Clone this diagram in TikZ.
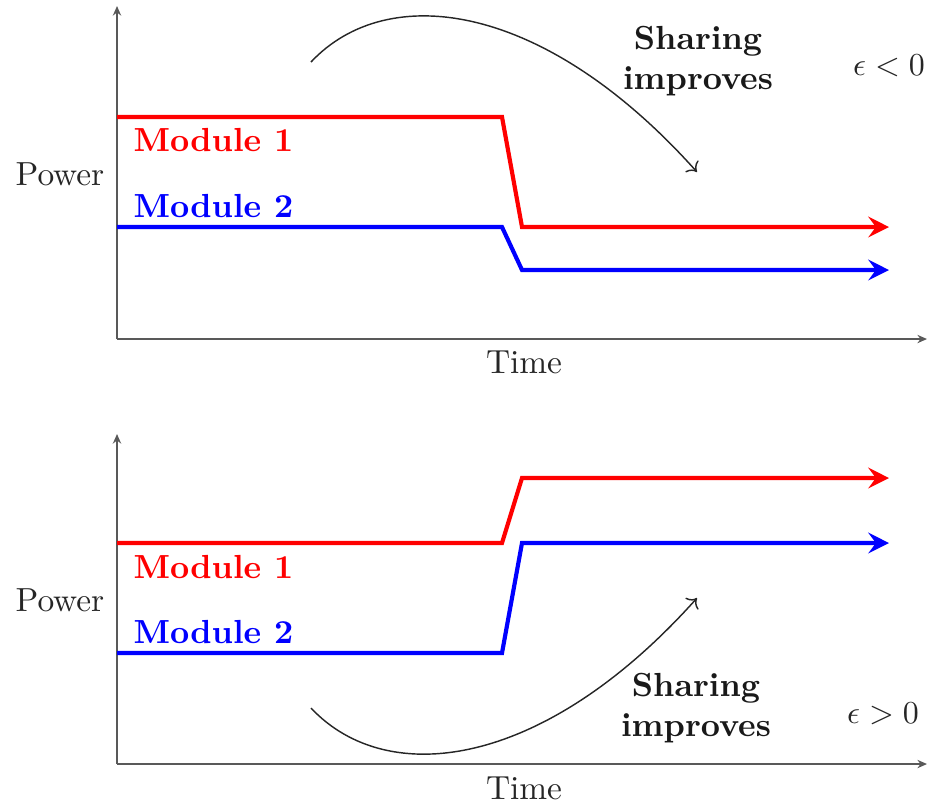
\documentclass[tikz,border=0pt]{standalone}
\usetikzlibrary{arrows.meta}
\begin{document}
\begin{tikzpicture}[x=0.011cm,y=-0.011cm,
  every node/.style={font=\fontsize{10.45pt}{12.6pt}\selectfont},
  axis/.style={draw=black!65,line width=0.5pt,-{Stealth[length=3pt,width=2.6pt]}},
  trace/.style={line width=1.3pt,-{Stealth[length=6.5pt,width=6.5pt,inset=2.4pt]}},
  hint/.style={draw=black!85,line width=0.45pt,->},
  lbl/.style={text=black!85,inner sep=0pt},
  mod/.style={font=\fontsize{10.45pt}{12.6pt}\selectfont\bfseries,anchor=west,inner sep=0pt},
  note/.style={font=\fontsize{10.45pt}{12.3pt}\selectfont\bfseries,align=center,inner sep=0pt,text=black!90}]
\useasboundingbox (0,0) rectangle (931,803);

% ---------- upper panel: epsilon < 0 ----------
\coordinate (o1) at (117,339);
\coordinate (ytop1) at (117,6);
\coordinate (xend1) at (927,339);
\draw[axis] (o1) -- (ytop1);
\draw[axis] (o1) -- (xend1);

\coordinate (r1a) at (117,117);
\coordinate (r1b) at (502,117);
\coordinate (r1c) at (522,227);
\coordinate (r1d) at (889,227);
\draw[trace,red] (r1a) -- (r1b) -- (r1c) -- (r1d);

\coordinate (b1a) at (117,227);
\coordinate (b1b) at (502,227);
\coordinate (b1c) at (522,270);
\coordinate (b1d) at (889,270);
\draw[trace,blue] (b1a) -- (b1b) -- (b1c) -- (b1d);

\node[mod,red] (m11) at (133,140) {Module 1};
\node[mod,blue] (m12) at (133,206) {Module 2};
\node[lbl] (pw1) at (60,174) {Power};
\node[lbl] (tm1) at (524,362) {Time};
\node[note] (sh1) at (698,61) {Sharing\\improves};
\node[lbl] (ep1) at (889,66) {$\epsilon<0$};

\coordinate (c1s) at (311,62);
\coordinate (c1e) at (697,172);
\draw[hint] (c1s) .. controls (388,-20) and (545,2) .. (c1e);

% ---------- lower panel: epsilon > 0 ----------
\coordinate (o2) at (117,764);
\coordinate (ytop2) at (117,434);
\coordinate (xend2) at (927,764);
\draw[axis] (o2) -- (ytop2);
\draw[axis] (o2) -- (xend2);

\coordinate (r2a) at (117,543);
\coordinate (r2b) at (502,543);
\coordinate (r2c) at (522,478);
\coordinate (r2d) at (889,478);
\draw[trace,red] (r2a) -- (r2b) -- (r2c) -- (r2d);

\coordinate (b2a) at (117,653);
\coordinate (b2b) at (502,653);
\coordinate (b2c) at (522,543);
\coordinate (b2d) at (889,543);
\draw[trace,blue] (b2a) -- (b2b) -- (b2c) -- (b2d);

\node[mod,red] (m21) at (133,567) {Module 1};
\node[mod,blue] (m22) at (133,632) {Module 2};
\node[lbl] (pw2) at (60,600) {Power};
\node[lbl] (tm2) at (524,788) {Time};
\node[note] (sh2) at (696,708) {Sharing\\improves};
\node[lbl] (ep2) at (883,714) {$\epsilon>0$};

\coordinate (c2s) at (311,708);
\coordinate (c2e) at (697,598);
\draw[hint] (c2s) .. controls (388,790) and (545,768) .. (c2e);
\end{tikzpicture}
\end{document}
